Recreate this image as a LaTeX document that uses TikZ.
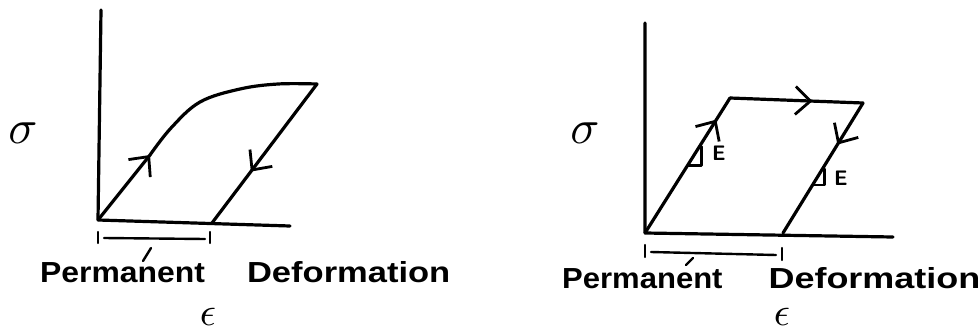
\documentclass[tikz,border=0pt]{standalone}
\usepackage{fontspec}
\setmainfont{Liberation Sans}
\usetikzlibrary{arrows.meta,decorations.markings,calc}
\tikzset{
  ink/.style={line width=3.2pt, line cap=round, line join=round},
  thin ink/.style={line width=2.4pt, line cap=round, line join=round},
  barbat/.style={postaction={decorate}, decoration={markings,
      mark=at position #1 with {\arrow[line width=2.8pt]{Straight Barb[length=15pt,width=28pt]}}}},
  label text/.style={font=\bfseries\fontsize{29}{30}\selectfont, inner sep=0pt},
  eps/.style={inner sep=0pt},
  sig/.style={inner sep=0pt},
  emark/.style={font=\sffamily\bfseries\fontsize{21}{21}\selectfont, inner sep=0pt}
}
\begin{document}
\begin{tikzpicture}[x=1pt,y=-1pt]
\useasboundingbox (0,0) rectangle (979,332);
% ---------- left diagram ----------
\coordinate (Ltop) at (101,10);
\coordinate (LO) at (98,220);
\coordinate (Lxe) at (290,226);
\coordinate (Lk) at (150,155);
\coordinate (Lpk) at (317,84);
\coordinate (Lun) at (212,223);
\draw[ink] (Ltop) -- (LO) -- (Lxe);
\draw[ink, barbat=1] (LO) -- (Lk);
\draw[ink] plot[smooth, tension=0.6] coordinates {(Lk) (171,128) (200,102) (240,89) (278,84) (Lpk)};
\draw[ink, barbat=0.63] (Lpk) -- (Lun);
% bracket
\coordinate (Lb1t) at (98,232);
\coordinate (Lb1b) at (98,243);
\coordinate (Lb2t) at (210,232);
\coordinate (Lb2b) at (210,243);
\coordinate (Lbl) at (104,238);
\coordinate (Lbr) at (205,239);
\draw[thin ink] (Lb1t) -- (Lb1b);
\draw[thin ink] (Lb2t) -- (Lb2b);
\draw[thin ink] (Lbl) -- (Lbr);
\coordinate (Ls1) at (151,248);
\coordinate (Ls2) at (143,261);
\draw[thin ink] (Ls1) -- (Ls2);
\node[label text, anchor=base west] (Ltext) at (40,282)
  {\scalebox{1.1}[1]{Permanent}\hspace{42pt}\scalebox{1.19}[1]{Deformation}};
\node[eps] (Leps) at (208,317) {\scalebox{4}{$\epsilon$}};
\node[sig] (Lsig) at (23,133) {\scalebox{4.8}{$\sigma$}};
% ---------- right diagram ----------
\coordinate (Rtop) at (645,23);
\coordinate (RO) at (645,233);
\coordinate (Rxe) at (893,237);
\coordinate (RA) at (730,98);
\coordinate (RB) at (863,103);
\coordinate (RC) at (783,233);
\draw[ink] (Rtop) -- (RO) -- (Rxe);
\draw[ink, barbat=0.84] (RO) -- (RA);
\draw[ink, barbat=0.62] (RA) -- (RB);
\draw[ink, barbat=0.32] (RB) -- (RC);
% slope markers
\coordinate (Re1) at ($(RO)!0.50!(RA)$);
\draw[thin ink] (Re1) -- ++(14,0) -- ++(0,-19);
\node[emark, anchor=west] (RE1) at (712,153) {E};
\coordinate (Re2) at ($(RB)!0.63!(RC)$);
\draw[thin ink] (Re2) -- ++(12,0) -- ++(0,-16);
\node[emark, anchor=west] (RE2) at (834,178) {E};
% bracket
\coordinate (Rb1t) at (645,245);
\coordinate (Rb1b) at (645,257);
\coordinate (Rb2t) at (782,248);
\coordinate (Rb2b) at (782,260);
\coordinate (Rbl) at (651,252);
\coordinate (Rbr) at (776,255);
\draw[thin ink] (Rb1t) -- (Rb1b);
\draw[thin ink] (Rb2t) -- (Rb2b);
\draw[thin ink] (Rbl) -- (Rbr);
\coordinate (Rs1) at (693,258);
\coordinate (Rs2) at (686,265);
\draw[thin ink] (Rs1) -- (Rs2);
\node[label text, anchor=base west] (Rtext) at (562,288)
  {\scalebox{1.07}[1]{Permanent}\hspace{46pt}\scalebox{1.24}[1]{Deformation}};
\node[eps] (Reps) at (782,317) {\scalebox{4}{$\epsilon$}};
\node[sig] (Rsig) at (585,133) {\scalebox{4.8}{$\sigma$}};
\end{tikzpicture}
\end{document}
